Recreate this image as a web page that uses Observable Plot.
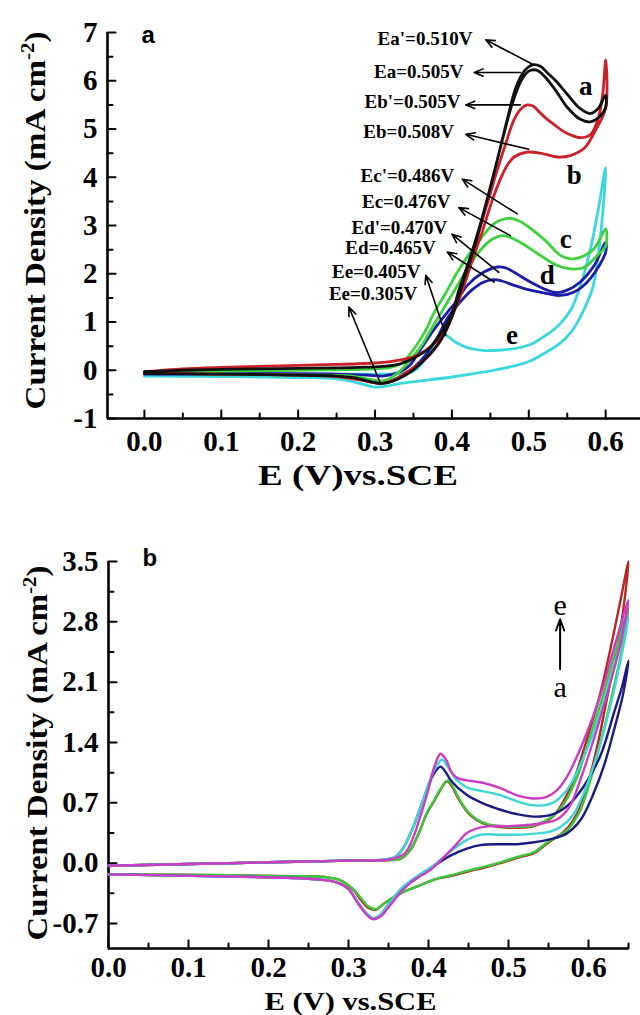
<!DOCTYPE html>
<html><head><meta charset="utf-8">
<script src="https://cdn.jsdelivr.net/npm/d3@7"></script>
<script src="https://cdn.jsdelivr.net/npm/@observablehq/plot@0.6"></script>
<style>
html,body{margin:0;padding:0;background:#fff;}
#chart{width:640px;}
#chart svg{display:block;}
</style></head><body><div id="chart"></div>
<script>
// ---------- Panel a data ----------
const xTicksA = [0, 0.1, 0.2, 0.3, 0.4, 0.5, 0.6];
const xMinorA = [0.05, 0.15, 0.25, 0.35, 0.45, 0.55];
const yTicksA = [-1, 0, 1, 2, 3, 4, 5, 6, 7];
const yMinorA = [-0.5, 0.5, 1.5, 2.5, 3.5, 4.5, 5.5, 6.5];

const curveA_a = [[0,-0.03],[0.05,0.0],[0.1,0.02],[0.15,0.03],[0.2,0.04],[0.25,0.05],[0.28,0.06],[0.31,0.08],[0.33,0.12],[0.35,0.25],[0.37,0.45],[0.385,0.75],[0.398,1.1],[0.41,1.7],[0.426,2.45],[0.44,3.2],[0.45,3.8],[0.462,4.55],[0.472,5.2],[0.483,5.85],[0.494,6.2],[0.505,6.33],[0.515,6.3],[0.525,6.15],[0.535,6.0],[0.55,5.72],[0.567,5.42],[0.58,5.32],[0.59,5.42],[0.6,5.7],
  [0.6,5.45],[0.593,5.27],[0.58,5.15],[0.567,5.2],[0.55,5.45],[0.535,5.8],[0.52,6.1],[0.51,6.22],[0.5,6.2],[0.49,6.0],[0.478,5.5],[0.466,4.8],[0.455,4.1],[0.445,3.5],[0.43,2.6],[0.415,1.85],[0.402,1.2],[0.39,0.75],[0.375,0.4],[0.36,0.15],[0.345,-0.05],[0.33,-0.18],[0.318,-0.25],[0.305,-0.27],[0.29,-0.22],[0.27,-0.15],[0.25,-0.12],[0.2,-0.1],[0.1,-0.08],[0,-0.07]];
const curveA_b = [[0,-0.03],[0.05,0.03],[0.1,0.06],[0.15,0.08],[0.2,0.1],[0.25,0.12],[0.3,0.15],[0.32,0.18],[0.335,0.22],[0.35,0.28],[0.365,0.4],[0.38,0.6],[0.395,0.95],[0.41,1.5],[0.425,2.2],[0.44,2.9],[0.452,3.5],[0.463,3.96],[0.472,4.25],[0.481,4.42],[0.498,4.52],[0.515,4.5],[0.537,4.42],[0.554,4.45],[0.572,4.6],[0.587,4.98],[0.6,5.44],
  [0.6,6.43],[0.596,5.7],[0.59,5.2],[0.58,4.88],[0.567,4.82],[0.554,4.88],[0.545,4.95],[0.533,5.09],[0.524,5.2],[0.515,5.33],[0.506,5.47],[0.498,5.5],[0.49,5.42],[0.481,5.2],[0.47,4.7],[0.458,4.1],[0.445,3.4],[0.43,2.6],[0.415,1.8],[0.4,1.1],[0.385,0.6],[0.37,0.3],[0.355,0.1],[0.34,-0.05],[0.325,-0.2],[0.31,-0.27],[0.3,-0.26],[0.28,-0.2],[0.25,-0.13],[0.2,-0.1],[0.1,-0.08],[0,-0.06]];
const curveA_c = [[0,-0.05],[0.1,-0.02],[0.2,0.0],[0.25,0.01],[0.3,0.03],[0.32,0.06],[0.335,0.15],[0.351,0.45],[0.365,0.8],[0.377,1.2],[0.392,1.6],[0.407,2.03],[0.422,2.4],[0.437,2.72],[0.454,3.03],[0.465,3.12],[0.476,3.15],[0.487,3.1],[0.498,2.99],[0.511,2.83],[0.524,2.65],[0.541,2.38],[0.554,2.31],[0.567,2.34],[0.585,2.52],[0.6,2.93],
  [0.6,2.58],[0.589,2.38],[0.572,2.13],[0.554,2.1],[0.537,2.17],[0.515,2.38],[0.489,2.65],[0.467,2.79],[0.45,2.69],[0.435,2.45],[0.42,2.1],[0.405,1.7],[0.39,1.3],[0.375,0.9],[0.36,0.5],[0.345,0.2],[0.33,-0.05],[0.315,-0.2],[0.305,-0.22],[0.29,-0.18],[0.27,-0.12],[0.2,-0.1],[0.1,-0.08],[0,-0.06]];
const curveA_d = [[0,-0.05],[0.1,-0.06],[0.2,-0.07],[0.25,-0.08],[0.29,-0.1],[0.31,-0.12],[0.33,-0.05],[0.345,0.1],[0.36,0.45],[0.377,0.85],[0.394,1.2],[0.407,1.45],[0.42,1.76],[0.441,2.03],[0.459,2.14],[0.47,2.12],[0.481,2.03],[0.502,1.83],[0.524,1.66],[0.537,1.61],[0.55,1.66],[0.567,1.83],[0.585,2.17],[0.6,2.65],
  [0.6,2.45],[0.58,1.9],[0.559,1.62],[0.541,1.55],[0.524,1.59],[0.502,1.66],[0.481,1.76],[0.465,1.85],[0.454,1.88],[0.44,1.82],[0.425,1.65],[0.41,1.4],[0.395,1.1],[0.38,0.65],[0.365,0.3],[0.35,0.05],[0.335,-0.12],[0.32,-0.22],[0.305,-0.27],[0.29,-0.22],[0.27,-0.15],[0.25,-0.12],[0.2,-0.1],[0.1,-0.08],[0,-0.08]];
const curveA_e = [[0,-0.12],[0.1,-0.13],[0.2,-0.15],[0.25,-0.18],[0.28,-0.27],[0.3,-0.35],[0.315,-0.33],[0.33,-0.28],[0.36,-0.22],[0.4,-0.14],[0.44,-0.04],[0.476,0.07],[0.5,0.18],[0.519,0.34],[0.54,0.55],[0.556,0.81],[0.57,1.2],[0.583,1.7],[0.592,2.6],[0.6,4.2],
  [0.59,3.3],[0.58,2.5],[0.57,1.9],[0.556,1.29],[0.54,0.95],[0.53,0.81],[0.515,0.65],[0.503,0.54],[0.485,0.46],[0.465,0.42],[0.44,0.41],[0.42,0.47],[0.405,0.58],[0.395,0.7],[0.387,0.75],[0.378,0.6],[0.37,0.35],[0.36,0.12],[0.35,-0.02],[0.335,-0.07],[0.3,-0.08],[0.2,-0.08],[0.1,-0.08],[0,-0.07]];

const curveNamesA = ["e", "d", "c", "b", "a"];
const curveLabelE_A = [0.574, 0.559, 0.548, 0.524, 0.478];
const curveLabelJ_A = [5.88, 4.03, 2.72, 1.97, 0.72];
const curveLabelText_A = ["a", "b", "c", "d", "e"];

const annoText = ["Ea'=0.510V", "Ea=0.505V", "Eb'=0.505V", "Eb=0.508V", "Ec'=0.486V", "Ec=0.476V", "Ed'=0.470V", "Ed=0.465V", "Ee=0.405V", "Ee=0.305V"];
const annoE = [0.4266, 0.415, 0.411, 0.4026, 0.403, 0.398, 0.394, 0.379, 0.359, 0.355];
const annoJ = [6.86, 6.19, 5.57, 4.95, 4.03, 3.48, 2.95, 2.53, 2.03, 1.59];
const arrowFromE = [0.506, 0.489, 0.489, 0.500, 0.485, 0.476, 0.461, 0.455, 0.392, 0.307];
const arrowFromJ = [6.33, 6.17, 5.50, 4.58, 3.24, 2.79, 2.03, 1.83, 0.73, -0.27];
const arrowToE = [0.444, 0.429, 0.418, 0.418, 0.4135, 0.409, 0.400, 0.394, 0.366, 0.266];
const arrowToJ = [6.85, 6.17, 5.50, 4.89, 3.96, 3.37, 2.82, 2.45, 1.97, 1.31];

// ---------- Panel b data ----------
const xTicksB = [0, 0.1, 0.2, 0.3, 0.4, 0.5, 0.6];
const xMinorB = [0.05, 0.15, 0.25, 0.35, 0.45, 0.55, 0.65];
const yTicksB = [-0.7, 0, 0.7, 1.4, 2.1, 2.8, 3.5];
const yMinorB = [-0.35, 0.35, 1.05, 1.75, 2.45, 3.15];

const curveB_red = [[0,-0.03],[0.1,-0.01],[0.2,0.01],[0.3,0.03],[0.35,0.035],[0.365,0.05],[0.377,0.15],[0.388,0.35],[0.398,0.58],[0.407,0.72],[0.415,0.85],[0.423,0.95],[0.43,0.88],[0.436,0.77],[0.448,0.6],[0.46,0.5],[0.475,0.44],[0.49,0.42],[0.51,0.41],[0.532,0.43],[0.553,0.52],[0.565,0.66],[0.582,0.98],[0.6,1.5],[0.615,1.98],[0.63,2.6],[0.64,3.05],[0.65,3.5],
  [0.645,3.05],[0.637,2.55],[0.625,2.0],[0.612,1.4],[0.6,0.95],[0.587,0.6],[0.571,0.38],[0.55,0.24],[0.532,0.12],[0.51,0.06],[0.49,0.0],[0.47,-0.05],[0.448,-0.1],[0.428,-0.15],[0.407,-0.19],[0.386,-0.27],[0.365,-0.35],[0.344,-0.47],[0.334,-0.54],[0.325,-0.52],[0.315,-0.42],[0.307,-0.32],[0.29,-0.2],[0.27,-0.16],[0.23,-0.15],[0.15,-0.14],[0,-0.13]];
const curveB_green = [[0,-0.03],[0.1,-0.01],[0.2,0.01],[0.3,0.03],[0.35,0.035],[0.365,0.05],[0.377,0.15],[0.388,0.35],[0.398,0.58],[0.407,0.73],[0.415,0.86],[0.424,0.96],[0.431,0.88],[0.437,0.77],[0.448,0.61],[0.46,0.51],[0.475,0.45],[0.49,0.43],[0.51,0.42],[0.532,0.44],[0.553,0.53],[0.567,0.66],[0.585,0.98],[0.603,1.5],[0.62,2.0],[0.635,2.5],[0.65,2.95],
  [0.64,2.4],[0.628,1.9],[0.615,1.4],[0.602,0.95],[0.589,0.6],[0.573,0.38],[0.55,0.25],[0.532,0.13],[0.51,0.07],[0.49,0.01],[0.47,-0.04],[0.448,-0.09],[0.428,-0.14],[0.407,-0.19],[0.386,-0.27],[0.365,-0.35],[0.344,-0.47],[0.335,-0.53],[0.326,-0.51],[0.316,-0.41],[0.307,-0.31],[0.29,-0.2],[0.27,-0.16],[0.23,-0.15],[0.15,-0.14],[0,-0.13]];
const curveB_navy = [[0,-0.03],[0.1,-0.01],[0.2,0.01],[0.3,0.03],[0.345,0.04],[0.358,0.07],[0.368,0.17],[0.38,0.4],[0.392,0.7],[0.402,0.95],[0.41,1.08],[0.415,1.12],[0.422,1.05],[0.428,0.96],[0.448,0.79],[0.469,0.69],[0.49,0.62],[0.51,0.57],[0.532,0.54],[0.553,0.56],[0.573,0.66],[0.594,0.89],[0.615,1.25],[0.632,1.75],[0.642,2.05],[0.65,2.35],
  [0.643,1.95],[0.632,1.55],[0.62,1.15],[0.605,0.78],[0.59,0.5],[0.572,0.34],[0.553,0.28],[0.53,0.24],[0.51,0.22],[0.49,0.22],[0.465,0.21],[0.448,0.17],[0.428,0.09],[0.407,-0.03],[0.386,-0.17],[0.365,-0.31],[0.35,-0.48],[0.34,-0.6],[0.331,-0.64],[0.321,-0.57],[0.31,-0.43],[0.3,-0.3],[0.284,-0.22],[0.264,-0.19],[0.223,-0.17],[0.12,-0.15],[0,-0.13]];
const curveB_cyan = [[0,-0.03],[0.1,-0.01],[0.2,0.01],[0.3,0.03],[0.345,0.04],[0.358,0.07],[0.368,0.17],[0.38,0.4],[0.392,0.7],[0.402,0.97],[0.41,1.13],[0.417,1.2],[0.424,1.12],[0.436,0.96],[0.448,0.88],[0.47,0.83],[0.49,0.79],[0.51,0.72],[0.532,0.67],[0.553,0.69],[0.573,0.85],[0.594,1.23],[0.615,1.75],[0.632,2.3],[0.65,2.85],
  [0.64,2.35],[0.628,1.85],[0.612,1.3],[0.597,0.88],[0.58,0.55],[0.565,0.42],[0.553,0.37],[0.53,0.34],[0.51,0.33],[0.49,0.33],[0.465,0.33],[0.448,0.27],[0.428,0.14],[0.407,-0.02],[0.386,-0.15],[0.365,-0.3],[0.35,-0.48],[0.34,-0.6],[0.331,-0.64],[0.321,-0.57],[0.31,-0.43],[0.3,-0.3],[0.284,-0.22],[0.264,-0.19],[0.223,-0.17],[0.12,-0.15],[0,-0.13]];
const curveB_magenta = [[0,-0.03],[0.1,-0.01],[0.2,0.01],[0.3,0.03],[0.35,0.04],[0.362,0.07],[0.371,0.12],[0.381,0.3],[0.39,0.55],[0.4,0.86],[0.407,1.11],[0.415,1.27],[0.422,1.2],[0.429,1.05],[0.436,0.99],[0.448,0.96],[0.469,0.93],[0.49,0.87],[0.51,0.79],[0.532,0.75],[0.548,0.77],[0.561,0.85],[0.573,1.0],[0.594,1.42],[0.615,1.95],[0.632,2.5],[0.65,3.05],
  [0.64,2.55],[0.632,2.25],[0.612,1.6],[0.591,1.0],[0.576,0.65],[0.561,0.51],[0.54,0.46],[0.52,0.44],[0.5,0.43],[0.479,0.43],[0.463,0.41],[0.448,0.35],[0.433,0.2],[0.417,0.05],[0.402,-0.08],[0.381,-0.2],[0.366,-0.33],[0.351,-0.5],[0.34,-0.62],[0.33,-0.65],[0.32,-0.57],[0.31,-0.44],[0.3,-0.3],[0.284,-0.22],[0.264,-0.19],[0.223,-0.17],[0.12,-0.15],[0,-0.13]];
const curveNamesB = ["a", "b", "c", "d", "e"];

const arrowLabelsB = ["e", "a"];
const arrowLabelE_B = [0.5645, 0.5645];
const arrowLabelJ_B = [2.99, 2.04];
const arrowB_from = [0.5645, 2.25];
const arrowB_to = [0.5645, 2.83];

// ---------- shared helpers ----------
const serif = "'Liberation Serif','Times New Roman',serif";
const sans = "'Liberation Sans',Arial,sans-serif";
const yTitle = "Current Density (mA cm-2)";
const spikeUp = {draw(ctx, l) { ctx.moveTo(0, 0); ctx.lineTo(0, -l); }};
const spikeRight = {draw(ctx, l) { ctx.moveTo(0, 0); ctx.lineTo(l, 0); }};

function rows(curves, names) {
  return curves.flatMap((pts, k) => pts.map(([E, j], i) => ({E, j, name: names[k], i})));
}

function frameMarks(xDom, yDom, xMajor, xMinor, yMajor, yMinor, yFmt, xPad) {
  return [
    Plot.ruleX([xDom[0]], {stroke: "black", strokeWidth: 2.6}),
    Plot.ruleY([yDom[0]], {stroke: "black", strokeWidth: 2.6}),
    Plot.vector(xMajor, {x: d => d, frameAnchor: "bottom", length: 8, shape: spikeUp, anchor: "start", stroke: "black", strokeWidth: 2}),
    Plot.vector(xMinor, {x: d => d, frameAnchor: "bottom", length: 5, shape: spikeUp, anchor: "start", stroke: "black", strokeWidth: 2}),
    Plot.vector(yMajor, {y: d => d, frameAnchor: "left", length: 8, shape: spikeRight, anchor: "start", stroke: "black", strokeWidth: 2}),
    Plot.vector(yMinor, {y: d => d, frameAnchor: "left", length: 5, shape: spikeRight, anchor: "start", stroke: "black", strokeWidth: 2}),
    Plot.axisX(xMajor, {tickSize: 0, tickPadding: xPad, tickFormat: d => d.toFixed(1), label: null, fontSize: 29, fontWeight: "bold", fontFamily: serif, fill: "black"}),
    Plot.axisY(yMajor, {tickSize: 0, tickPadding: 10, tickFormat: yFmt, label: null, fontSize: 29, fontWeight: "bold", fontFamily: serif, fill: "black"})
  ];
}

// superscript the "-2" of the y title
function superscript(svg) {
  d3.select(svg).selectAll("text").each(function() {
    if (this.textContent === yTitle) {
      const t = d3.select(this);
      t.text(null);
      t.append("tspan").text("Current Density (mA cm");
      t.append("tspan").attr("dy", "-11").attr("font-size", "19px").text("-2");
      t.append("tspan").attr("dy", "11").text(")");
    }
  });
}
// squeeze or stretch a text along its own direction to a target length (after it is in the page)
function fitText(svg, content, target) {
  d3.select(svg).selectAll("text").each(function() {
    if (this.textContent === content) {
      const len = this.getComputedTextLength();
      if (len > 0) {
        const tr = this.getAttribute("transform") || "";
        this.setAttribute("transform", `${tr} scale(${target / len},1)`);
      }
    }
  });
}

// ---------- Panel a ----------
const xDomA = [-0.048, 0.6453], yDomA = [-1, 7];
const xTitleA = "E (V)vs.SCE";
const plotA = Plot.plot({
  width: 640, height: 500,
  marginTop: 32, marginBottom: 82, marginLeft: 107, marginRight: 0,
  x: {domain: xDomA, label: null},
  y: {domain: yDomA, label: null},
  color: {domain: curveNamesA, range: ["#3ad8dc", "#1c1ca6", "#3fd23f", "#cc2128", "#111111"]},
  style: {fontFamily: serif, background: "white", color: "black", overflow: "visible"},
  marks: [
    ...frameMarks(xDomA, yDomA, xTicksA, xMinorA, yTicksA, yMinorA, d => String(d), 12),
    Plot.line(rows([curveA_e, curveA_d, curveA_c, curveA_b, curveA_a], curveNamesA), {x: "E", y: "j", z: "name", stroke: "name", strokeWidth: 2.8, curve: "catmull-rom"}),
    Plot.arrow(annoText, {x1: (d, i) => arrowFromE[i], y1: (d, i) => arrowFromJ[i], x2: (d, i) => arrowToE[i], y2: (d, i) => arrowToJ[i], stroke: "black", strokeWidth: 1.6, headLength: 9, headAngle: 45}),
    Plot.text(annoText, {x: (d, i) => annoE[i], y: (d, i) => annoJ[i], text: d => d, textAnchor: "end", lineAnchor: "middle", fontSize: 19, fontWeight: "bold", fontFamily: serif, fill: "black"}),
    Plot.text(curveLabelText_A, {x: (d, i) => curveLabelE_A[i], y: (d, i) => curveLabelJ_A[i], text: d => d, lineAnchor: "middle", fontSize: 27, fontWeight: "bold", fontFamily: serif, fill: "black"}),
    Plot.text(["a"], {frameAnchor: "top-left", dx: 34, dy: 3, textAnchor: "start", lineAnchor: "middle", fontSize: 24, fontWeight: "bold", fontFamily: sans, fill: "black"}),
    Plot.text([yTitle], {frameAnchor: "left", rotate: -90, dx: -72, dy: -5, textAnchor: "middle", lineAnchor: "middle", fontSize: 30, fontWeight: "bold", fontFamily: serif, fill: "black"}),
    Plot.text([xTitleA], {frameAnchor: "bottom", dx: -16, dy: 57, textAnchor: "middle", lineAnchor: "middle", fontSize: 30, fontWeight: "bold", fontFamily: serif, fill: "black"})
  ]
});
superscript(plotA);

// ---------- Panel b ----------
const xDomB = [0, 0.65], yDomB = [-0.99, 3.5];
const xTitleB = "E (V) vs.SCE";
const plotB = Plot.plot({
  width: 640, height: 515,
  marginTop: 61, marginBottom: 67, marginLeft: 108, marginRight: 12,
  x: {domain: xDomB, label: null},
  y: {domain: yDomB, label: null},
  color: {domain: curveNamesB, range: ["#b8261e", "#3cc83c", "#1a1a80", "#3fd6d6", "#cc3cc4"]},
  style: {fontFamily: serif, background: "white", color: "black", overflow: "visible"},
  marks: [
    ...frameMarks(xDomB, yDomB, xTicksB, xMinorB, yTicksB, yMinorB, d => d.toFixed(1), 8),
    Plot.line(rows([curveB_red, curveB_green, curveB_navy, curveB_cyan, curveB_magenta], curveNamesB), {x: "E", y: "j", z: "name", stroke: "name", strokeWidth: 2.4, curve: "catmull-rom"}),
    Plot.arrow([0], {x1: arrowB_from[0], y1: arrowB_from[1], x2: arrowB_to[0], y2: arrowB_to[1], stroke: "black", strokeWidth: 2, headLength: 9, headAngle: 40}),
    Plot.text(arrowLabelsB, {x: (d, i) => arrowLabelE_B[i], y: (d, i) => arrowLabelJ_B[i], text: d => d, lineAnchor: "middle", fontSize: 30, fontFamily: serif, fill: "black"}),
    Plot.text(["b"], {frameAnchor: "top-left", dx: 34, dy: -3, textAnchor: "start", lineAnchor: "middle", fontSize: 24, fontWeight: "bold", fontFamily: sans, fill: "black"}),
    Plot.text([yTitle], {frameAnchor: "left", rotate: -90, dx: -71, dy: -2, textAnchor: "middle", lineAnchor: "middle", fontSize: 30, fontWeight: "bold", fontFamily: serif, fill: "black"}),
    Plot.text([xTitleB], {frameAnchor: "bottom", dx: -18, dy: 53, textAnchor: "middle", lineAnchor: "middle", fontSize: 26, fontWeight: "bold", fontFamily: serif, fill: "black"})
  ]
});
superscript(plotB);

document.getElementById("chart").append(plotA, plotB);
fitText(plotA, yTitle, 378);
fitText(plotB, yTitle, 375);
fitText(plotA, xTitleA, 200);
fitText(plotB, xTitleB, 172);
</script></body></html>
